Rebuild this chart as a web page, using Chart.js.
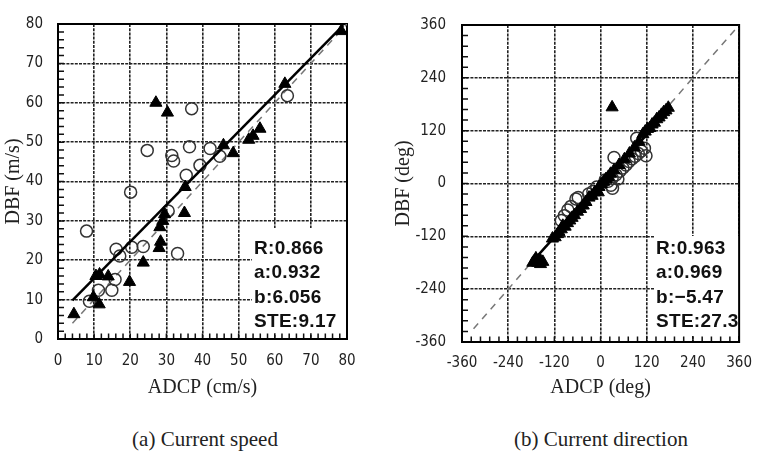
<!DOCTYPE html>
<html>
<head>
<meta charset="utf-8">
<script src="https://cdn.jsdelivr.net/npm/chart.js@4.4.1/dist/chart.umd.min.js"></script>
<style>
  html, body { margin: 0; padding: 0; background: #fff; }
  body { width: 764px; height: 463px; position: relative; overflow: hidden; }
  canvas { position: absolute; top: 0; }
  .caption {
    position: absolute;
    top: 427px;
    font-family: 'Liberation Serif', 'Times New Roman', serif;
    font-size: 21px;
    color: #222;
    transform: translateX(-50%);
    white-space: nowrap;
  }
</style>
</head>
<body>
<canvas id="speed" width="390" height="410" style="left:0"></canvas>
<canvas id="direction" width="374" height="410" style="left:390px"></canvas>
<div class="caption" style="left:205px">(a) Current speed</div>
<div class="caption" style="left:601px">(b) Current direction</div>
<script>
// ---- current speed (cm/s): ADCP vs DBF ----
const speedCircles = [
  [7.9, 27.4], [20.1, 37.3], [24.7, 47.9], [31.5, 46.6], [32, 45.2], [36.4, 48.8],
  [37, 58.5], [35.5, 41.6], [39.3, 44.1], [42.1, 48.4], [44.8, 46.4], [63.5, 61.8],
  [30.5, 32.5], [16.1, 22.8], [17.1, 21.1], [20.4, 23.3], [23.6, 23.5], [33.1, 21.7],
  [15.8, 15.1], [14.9, 12.4], [11.2, 12.4], [8.7, 9.6]
];
const speedTriangles = [
  [27.1, 60], [30.3, 57.5], [35.2, 38.6], [45.8, 49.2], [48.5, 47.2], [52.8, 50.6],
  [54, 51.6], [55.9, 53.4], [62.8, 64.8], [78.4, 78.2], [35, 32], [29.5, 31.7],
  [29, 30], [28.2, 28.4], [28.4, 24.7], [28, 23.1], [23.6, 19.4], [19.8, 14.5],
  [11.5, 16.4], [13.9, 15.9], [10.5, 16], [9.8, 10.6], [11.4, 8.8], [4.4, 6.3]
];
const speedTicks = [0, 10, 20, 30, 40, 50, 60, 70, 80];
const speedSlope = 0.932;
const speedIntercept = 6.056;
const speedFitRange = [4, 79];
const speedIdentity = [4, 80];
const speedStats = ['R:0.866', 'a:0.932', 'b:6.056', 'STE:9.17'];

// ---- current direction (deg): ADCP vs DBF ----
const dirCircles = [
  [-102, -84], [-94, -73], [-85, -60], [-77, -52], [-64, -35], [-58, -32], [-31, -24],
  [-20, -18], [-10, -8], [20, 5], [30, 12], [40, 20], [50, 28], [58, 35], [66, 42],
  [74, 50], [82, 56], [90, 62], [98, 68], [106, 74], [114, 80], [35, 59], [94, 103],
  [118, 63], [31, -11], [27, -4], [45, 10], [12, 8]
];
const dirTriangles = [
  [-172, -176], [-166, -178], [-160, -177], [-168, -170], [-158, -172], [-163, -180],
  [-150, -178], [-176, -180], [-156, -183],
  [-125, -125], [-118, -122], [-112, -115], [-108, -110], [-102, -104], [-98, -96],
  [-92, -98], [-86, -90], [-80, -84], [-74, -78], [-68, -72], [-60, -64], [-52, -58],
  [-45, -50], [-38, -42], [-30, -32], [-22, -28], [-15, -20], [-6, -20], [-4, -8],
  [2, -2], [8, 4], [14, 10], [20, 15], [26, 22], [35, 30], [48, 42], [62, 55],
  [75, 68], [88, 82], [100, 95], [110, 112], [116, 118], [122, 124], [128, 126],
  [134, 134], [140, 138], [146, 146], [152, 150], [158, 156], [164, 162], [170, 166],
  [176, 172], [30, 173]
];
const dirTicks = [-360, -240, -120, 0, 120, 240, 360];
const dirSlope = 0.969;
const dirIntercept = -5.47;
const dirFitRange = [-172, 178];
const dirIdentity = [-330, 360];
const dirStats = ['R:0.963', 'a:0.969', 'b:\u22125.47', 'STE:27.3'];

const tickFont = { family: "'Liberation Sans Narrow', 'Arial Narrow', 'DejaVu Sans Condensed', sans-serif", size: 15 };
const titleFont = { family: "'Liberation Serif', 'Times New Roman', serif", size: 20, lineHeight: 1.2 };

function toPoints(pairs) {
  return pairs.map(function (p) { return { x: p[0], y: p[1] }; });
}

function fitLine(range, slope, intercept) {
  return range.map(function (x) { return { x: x, y: slope * x + intercept }; });
}

// frame, inner minor ticks and the statistics block
function framePlugin(minorStep, box, lines, textX, textY) {
  return {
    id: 'frame',
    beforeDatasetsDraw: function (chart) {
      const ctx = chart.ctx;
      const a = chart.chartArea;
      const xs = chart.scales.x;
      const ys = chart.scales.y;
      ctx.save();
      ctx.fillStyle = '#fff';
      ctx.fillRect(box[0], box[1], box[2], box[3]);

      ctx.strokeStyle = '#111';
      ctx.lineWidth = 1.5;
      ctx.beginPath();
      for (let v = xs.min; v <= xs.max; v += minorStep) {
        const px = xs.getPixelForValue(v);
        ctx.moveTo(px, a.bottom);
        ctx.lineTo(px, a.bottom - 5.5);
      }
      for (let v = ys.min; v <= ys.max; v += minorStep) {
        const py = ys.getPixelForValue(v);
        ctx.moveTo(a.left, py);
        ctx.lineTo(a.left + 6, py);
      }
      ctx.stroke();

      ctx.strokeStyle = '#000';
      ctx.lineWidth = 2;
      ctx.strokeRect(a.left, a.top, a.right - a.left, a.bottom - a.top);

      ctx.fillStyle = '#111';
      ctx.font = "bold 19px 'Liberation Sans', Arial, sans-serif";
      ctx.letterSpacing = '0.3px';
      ctx.textBaseline = 'alphabetic';
      lines.forEach(function (t, i) {
        ctx.fillText(t, textX, textY + i * 24.3);
      });
      ctx.restore();
    }
  };
}

function axis(min, max, ticks, title, fitSize, horizontal, tickPad) {
  const cfg = {
    type: 'linear',
    min: min,
    max: max,
    afterBuildTicks: function (s) {
      s.ticks = ticks.map(function (v) { return { value: v }; });
    },
    grid: { color: '#222', lineWidth: 1.6, drawTicks: false },
    border: { display: false, dash: [3, 1.2] },
    ticks: { font: tickFont, color: '#222', padding: tickPad, maxRotation: 0, autoSkip: false },
    title: { display: true, text: title, font: titleFont, color: '#222' }
  };
  if (horizontal) {
    cfg.afterFit = function (s) { s.height = fitSize; };
    cfg.title.padding = { bottom: 10.5 };
  } else {
    cfg.afterFit = function (s) { s.width = fitSize; };
    cfg.title.padding = { top: 2 };
  }
  return cfg;
}

function makeChart(id, opts) {
  new Chart(document.getElementById(id), {
    type: 'scatter',
    data: {
      datasets: [
        {
          data: fitLine(opts.fitRange, opts.slope, opts.intercept),
          showLine: true, borderColor: '#000', borderWidth: 2.5, pointRadius: 0
        },
        {
          data: toPoints(opts.triangles),
          pointStyle: 'triangle', pointRadius: 7,
          backgroundColor: '#000', borderColor: '#000', borderWidth: 1
        },
        {
          data: toPoints(opts.circles),
          pointStyle: 'circle', pointRadius: 6,
          backgroundColor: 'rgba(0,0,0,0)', borderColor: '#333', borderWidth: 1.5
        },
        {
          data: opts.identity.map(function (v) { return { x: v, y: v }; }),
          showLine: true, borderColor: '#777', borderWidth: 1.5, borderDash: [7, 6], pointRadius: 0
        }
      ]
    },
    options: {
      responsive: false,
      animation: false,
      layout: { padding: opts.padding },
      plugins: { legend: { display: false }, tooltip: { enabled: false } },
      scales: {
        x: axis(opts.min, opts.max, opts.ticks, opts.xTitle, opts.xHeight, true, opts.xPad),
        y: axis(opts.min, opts.max, opts.ticks, opts.yTitle, opts.yWidth, false, opts.yPad)
      }
    },
    plugins: [framePlugin(opts.minor, opts.box, opts.stats, opts.textX, opts.textY)]
  });
}

makeChart('speed', {
  circles: speedCircles, triangles: speedTriangles, ticks: speedTicks,
  slope: speedSlope, intercept: speedIntercept, fitRange: speedFitRange, identity: speedIdentity,
  stats: speedStats, min: 0, max: 80, minor: 2,
  xTitle: 'ADCP (cm/s)', yTitle: 'DBF (m/s)',
  padding: { left: 0, top: 13, right: 43, bottom: 0 },
  xHeight: 71, yWidth: 58, xPad: 13, yPad: 15,
  box: [252, 228, 94, 105], textX: 254, textY: 254
});

makeChart('direction', {
  circles: dirCircles, triangles: dirTriangles, ticks: dirTicks,
  slope: dirSlope, intercept: dirIntercept, fitRange: dirFitRange, identity: dirIdentity,
  stats: dirStats, min: -360, max: 360, minor: 24,
  xTitle: 'ADCP (deg)', yTitle: 'DBF (deg)',
  padding: { left: 0, top: 15, right: 14, bottom: 0 },
  xHeight: 68, yWidth: 72, xPad: 12, yPad: 16,
  box: [265, 236, 94, 100], textX: 266, textY: 254
});
</script>
</body>
</html>
